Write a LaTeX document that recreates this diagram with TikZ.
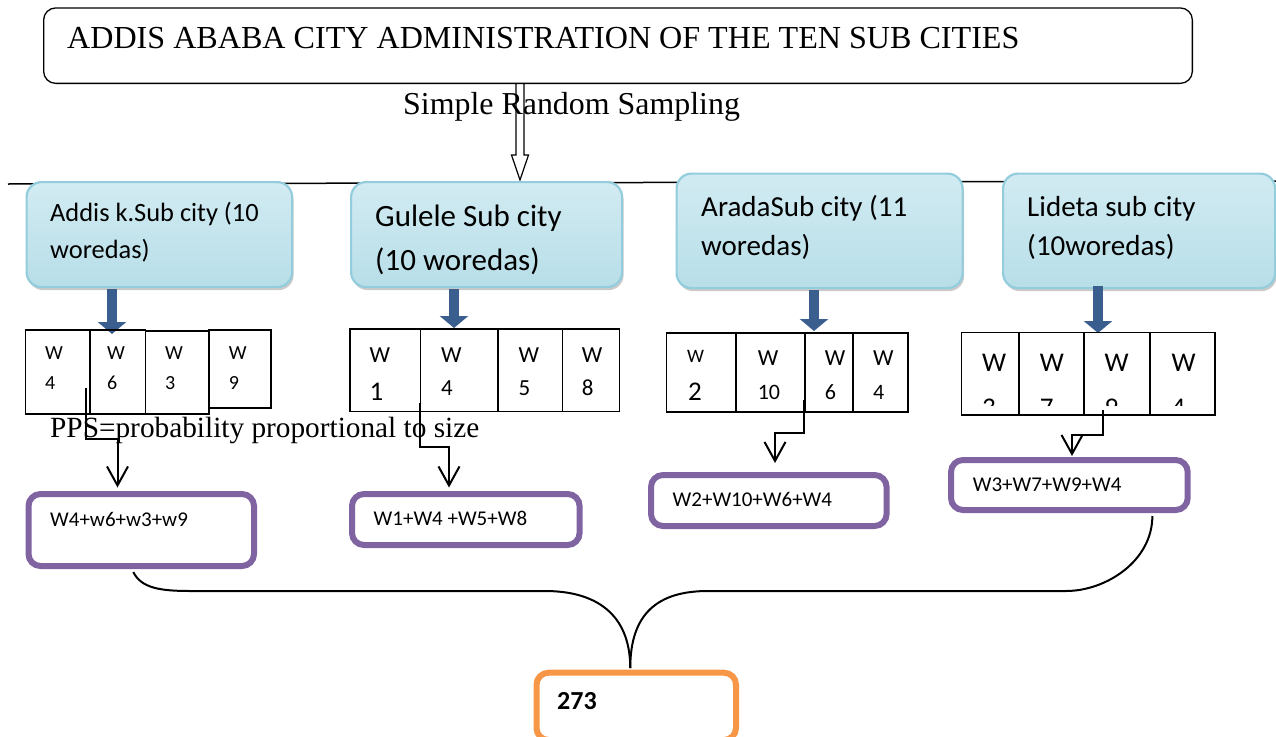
\documentclass[tikz,border=0pt]{standalone}
\usepackage{fontspec}
\setmainfont{Liberation Serif}
\newfontfamily\calib{Carlito}
\usetikzlibrary{arrows.meta,shadows,calc}
\definecolor{subborder}{HTML}{93CDDD}
\definecolor{subtop}{HTML}{D2EBF2}
\definecolor{submid}{HTML}{EAF5F8}
\definecolor{subbot}{HTML}{B7DEE8}
\definecolor{arrblue}{HTML}{3A5F8F}
\definecolor{pur}{HTML}{8064A2}
\definecolor{org}{HTML}{F79646}
\newcommand\myfs[1]{\fontsize{#1}{#1}\selectfont}
\tikzset{
  titlebox/.style={draw, line width=1.3, rounded corners=12, anchor=north west, inner sep=0},
  subbox/.style={draw=subborder, line width=2.2, rounded corners=15, top color=subtop, middle color=submid, bottom color=subbot,
     drop shadow={opacity=0.35, shadow xshift=1.5pt, shadow yshift=-3pt, fill=black!60}, anchor=north west, inner sep=0},
  cell/.style={draw, line width=1.5, anchor=north west, inner sep=0},
  purbox/.style={draw=pur, line width=6, rounded corners=12, anchor=north west, inner sep=0, fill=white},
  orgbox/.style={draw=org, line width=6, rounded corners=12, anchor=north west, inner sep=0, fill=white},
  txt/.style={inner sep=0, anchor=base west},
  bluearr/.style={draw=arrblue, line width=10, -{Triangle[width=28pt,length=12pt]}},
  elbow/.style={draw, line width=2, -{Straight Barb[width=21pt,length=19pt]}},
  brace/.style={draw, line width=2}
}
\begin{document}
\begin{tikzpicture}[x=1pt,y=-1pt]
\useasboundingbox (0,0) rectangle (1276,736);
% horizontal line
\coordinate (hl0) at (8,184);
\coordinate (hl1) at (1276,181);
\draw[line width=1.5] (hl0) -- (hl1);
% title
\node[titlebox, minimum width=1148.7, minimum height=75.4] (title) at (43,7.3) {};
\node[txt, font=\myfs{32.1}] (titleT) at (67,48) {ADDIS ABABA CITY ADMINISTRATION OF THE TEN SUB CITIES};
\node[txt, font=\myfs{31.9}] (srs) at (403,114) {Simple Random Sampling};
% hollow arrow
\coordinate (hx) at (520,180);
\draw[line width=1.2] ($(title.south -| hx)+(-4,0)$) -- ($(hx)+(-4,-25)$) -- ($(hx)+(-8.5,-25)$) -- (hx) -- ($(hx)+(8.5,-25)$) -- ($(hx)+(4,-25)$) -- ($(title.south -| hx)+(4,0)$);
% blue arrows
\coordinate (arA) at (112,334);
\coordinate (arB) at (454,328);
\coordinate (arC) at (814,331);
\coordinate (arD) at (1098,333);
% sub city boxes
\node[subbox, minimum width=265.5, minimum height=105] (sA) at (25.5,181) {};
\node[subbox, minimum width=271, minimum height=105] (sB) at (350,181) {};
\node[subbox, minimum width=286, minimum height=114.5] (sC) at (675.5,172.5) {};
\node[subbox, minimum width=272, minimum height=114.5] (sD) at (1002,172.5) {};
\draw[bluearr] ($(sA.south -| arA)+(0,1)$) -- (arA);
\draw[bluearr] ($(sB.south -| arB)+(0,1)$) -- (arB);
\draw[bluearr] ($(sC.south -| arC)+(0,1)$) -- (arC);
\draw[bluearr] ($(sD.south -| arD)+(0,-3)$) -- (arD);
\begin{scope}[font=\calib]
\node[txt, font=\calib\myfs{26.4}] (sAt1) at (50,221.7) {Addis k.Sub city (10};
\node[txt, font=\calib\myfs{26.4}] (sAt2) at (50,258.3) {woredas)};
\node[txt, font=\calib\myfs{31}] (sBt1) at (375,226.7) {Gulele Sub city};
\node[txt, font=\calib\myfs{31}] (sBt2) at (375,270) {(10 woredas)};
\node[txt, font=\calib\myfs{29}] (sCt1) at (701,216.7) {AradaSub city (11};
\node[txt, font=\calib\myfs{29}] (sCt2) at (701,255) {woredas)};
\node[txt, font=\calib\myfs{29}] (sDt1) at (1027,216.7) {Lideta sub city};
\node[txt, font=\calib\myfs{29}] (sDt2) at (1027,255) {(10woredas)};
% cells A
\node[cell, minimum width=64.5, minimum height=84] (a1) at (24.5,329) {};
\node[cell, minimum width=55.5, minimum height=84] (a2) at (89,329) {};
\node[cell, minimum width=63.5, minimum height=83] (a3) at (144.5,330) {};
\node[cell, minimum width=62, minimum height=78] (a4) at (208,329) {};
\foreach \xx/\dd [count=\i] in {45/4,107/6,165/3,228.6/9}{
  \node[txt, font=\calib\myfs{20}] (aw\i) at (\xx,359) {W};
  \node[txt, font=\calib\myfs{20}] (an\i) at (\xx,389) {\dd};
}
% cells B
\node[cell, minimum width=70.6, minimum height=82.7] (b1) at (349,328) {};
\node[cell, minimum width=77.4, minimum height=82.7] (b2) at (419.6,328) {};
\node[cell, minimum width=64.6, minimum height=82.7] (b3) at (497,328) {};
\node[cell, minimum width=57.2, minimum height=82.7] (b4) at (561.6,328) {};
\foreach \xx [count=\i] in {369.4,440.8,518.4,581.6}{
  \node[txt, font=\calib\myfs{23}] (bw\i) at (\xx,362) {W};
}
\node[txt, font=\calib\myfs{27}] (bn1) at (369.4,400) {1};
\node[txt, font=\calib\myfs{23}] (bn2) at (440.8,395) {4};
\node[txt, font=\calib\myfs{23}] (bn3) at (518.4,395) {5};
\node[txt, font=\calib\myfs{23}] (bn4) at (581.6,395) {8};
% cells C
\node[cell, minimum width=69.4, minimum height=79] (c1) at (665.6,332) {};
\node[cell, minimum width=69, minimum height=79] (c2) at (735,332) {};
\node[cell, minimum width=48, minimum height=79] (c3) at (804,332) {};
\node[cell, minimum width=55, minimum height=79] (c4) at (852,332) {};
\node[txt, font=\calib\myfs{19}] (cw1) at (687,362) {W};
\node[txt, font=\calib\myfs{27}] (cn1) at (688,400) {2};
\node[txt, font=\calib\myfs{23}] (cw2) at (757.6,365) {W};
\node[txt, font=\calib\myfs{22}] (cn2) at (757.6,399) {10};
\node[txt, font=\calib\myfs{23}] (cw3) at (824.6,365) {W};
\node[txt, font=\calib\myfs{22}] (cn3) at (824.6,399) {6};
\node[txt, font=\calib\myfs{23}] (cw4) at (873,365) {W};
\node[txt, font=\calib\myfs{22}] (cn4) at (873,399) {4};
% cells D
\node[cell, minimum width=57.5, minimum height=82.3] (d1) at (960.5,331.7) {};
\node[cell, minimum width=65, minimum height=82.3] (d2) at (1018,331.7) {};
\node[cell, minimum width=66, minimum height=82.3] (d3) at (1083,331.7) {};
\node[cell, minimum width=65, minimum height=82.3] (d4) at (1149,331.7) {};
\foreach \xx [count=\i] in {982,1039.6,1104.5,1171.4}{
  \node[txt, font=\calib\myfs{27}] (dw\i) at (\xx,371) {W};
}
\begin{scope}
\clip (960,331) rectangle (1214,405);
\foreach \xx/\dd [count=\i] in {982/3,1039.6/7,1104.5/9,1171.4/4}{
  \node[txt, font=\calib\myfs{27}] (dn\i) at (\xx,416) {\dd};
}
\end{scope}
% purple boxes
\node[purbox, minimum width=225.5, minimum height=72] (pA) at (25.5,491) {};
\node[purbox, minimum width=227.6, minimum height=51] (pB) at (349,491) {};
\node[purbox, minimum width=235.6, minimum height=51] (pC) at (648,472) {};
\node[purbox, minimum width=236.7, minimum height=50] (pD) at (948,457) {};
\node[txt, font=\calib\myfs{21}] (pAt) at (50,526) {W4+w6+w3+w9};
\node[txt, font=\calib\myfs{21}] (pBt) at (373.5,525) {W1+W4 +W5+W8};
\node[txt, font=\calib\myfs{21}] (pCt) at (672.5,506) {W2+W10+W6+W4};
\node[txt, font=\calib\myfs{21}] (pDt) at (972.6,491) {W3+W7+W9+W4};
% orange box
\node[orgbox, minimum width=199.5, minimum height=67.3] (or) at (533.5,669.7) {};
\node[txt, font=\calib\bfseries\myfs{26}] (ort) at (557,709.3) {273};
\end{scope}
% PPS text
\node[txt, font=\myfs{29.3}] (pps) at (50,437) {PPS=probability proportional to size};
% elbows
\coordinate (eA0) at (86,388);   \coordinate (eA1) at (117.5,439);
\coordinate (eB0) at (419.6,403); \coordinate (eB1) at (449,447);
\coordinate (eC0) at (804,400);  \coordinate (eC1) at (775,433);
\coordinate (eD0) at (1102.5,410); \coordinate (eD1) at (1072,435);
\draw[elbow, shorten >=3.5] (eA0) |- (eA1) -- (eA1 |- pA.north);
\draw[elbow, shorten >=3.5] (eB0) |- (eB1) -- (eB1 |- pB.north);
\draw[elbow, shorten >=9] (eC0) |- (eC1) -- (eC1 |- pC.north);
\draw[elbow, shorten >=1] (eD0) |- (eD1) -- (eD1 |- pD.north);
% brace
\coordinate (bj) at ($(or.north)+(-6,-1.5)$);
\coordinate (brL) at (190,591); \coordinate (brLm) at (545,591);
\coordinate (brR) at (1066,591); \coordinate (brRm) at (708,591);
\draw[brace] ($(pA.south)+(-8,3)$) .. controls +(8,16) and +(-30,0) .. (brL) -- (brLm)
   .. controls +(50,0) and +(0,-55) .. (bj);
\draw[brace] ($(pD.south)+(83,3)$) .. controls +(0,45) and +(40,0) .. (brR) -- (brRm)
   .. controls +(-50,0) and +(0,-55) .. (bj);
\end{tikzpicture}
\end{document}
